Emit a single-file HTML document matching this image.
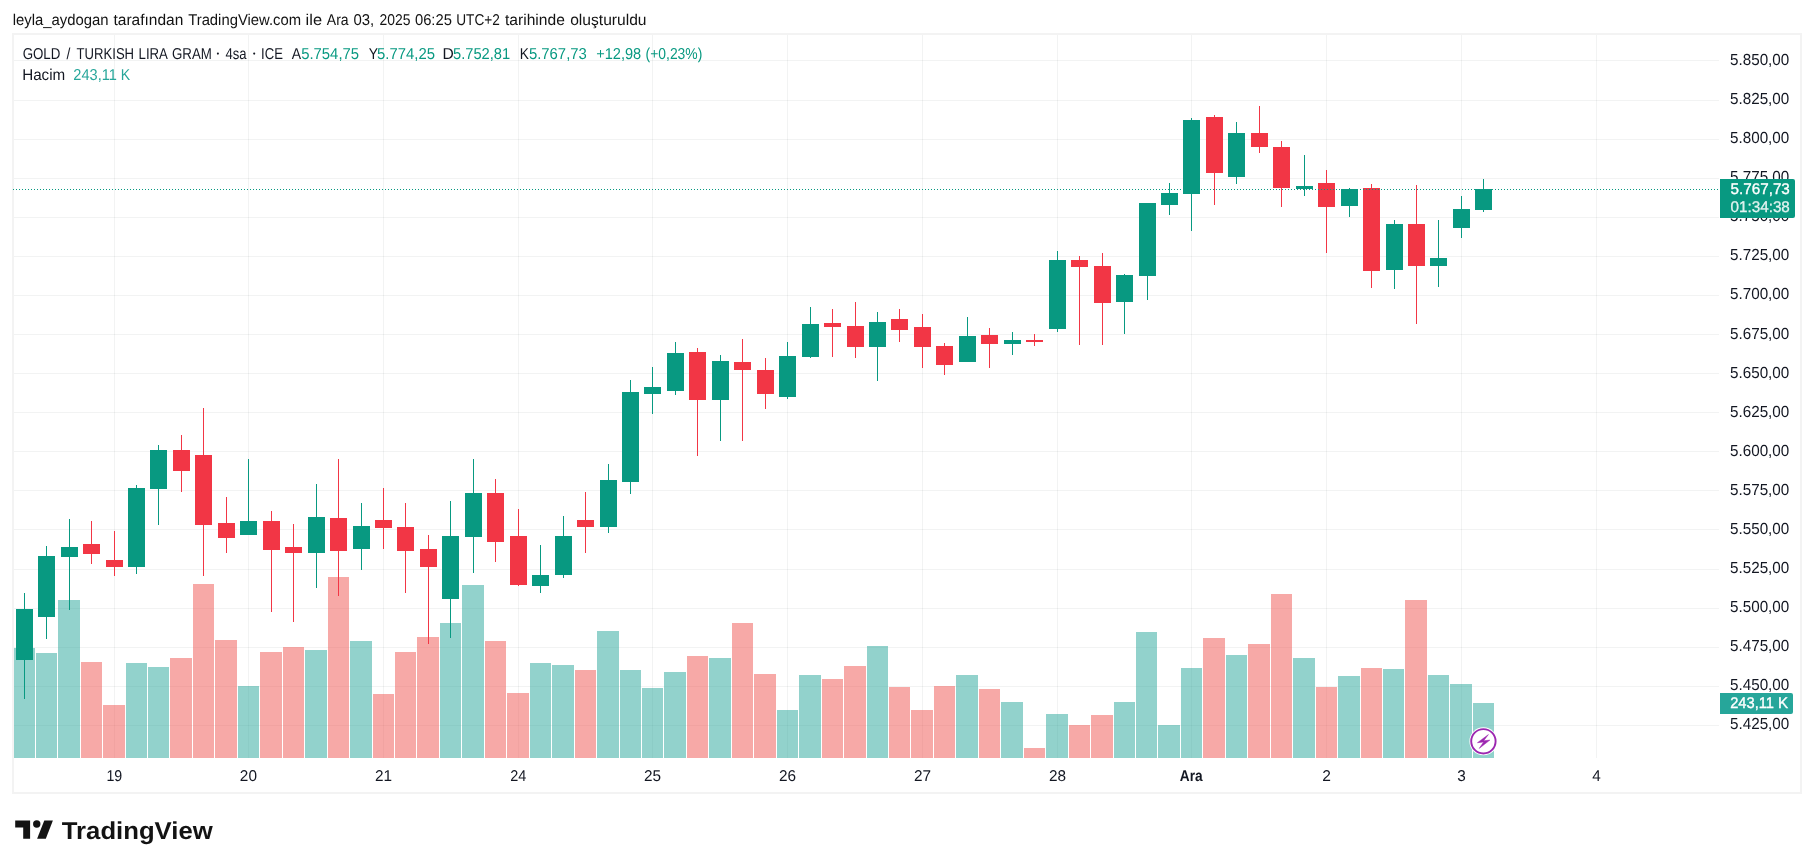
<!DOCTYPE html>
<html><head><meta charset="utf-8"><style>
html,body{margin:0;padding:0;background:#fff;}
body{width:1814px;height:868px;overflow:hidden;position:relative;}
svg{position:absolute;left:0;top:0;font-family:"Liberation Sans",sans-serif;will-change:transform;text-rendering:geometricPrecision;}
</style></head><body>
<svg width="1814" height="868" viewBox="0 0 1814 868">
<rect x="13" y="34" width="1788" height="759" fill="none" stroke="#f3f3f3" stroke-width="2"/>
<rect x="14" y="60" width="1705" height="1" fill="rgba(42,46,57,0.06)"/>
<rect x="14" y="100" width="1705" height="1" fill="rgba(42,46,57,0.06)"/>
<rect x="14" y="139" width="1705" height="1" fill="rgba(42,46,57,0.06)"/>
<rect x="14" y="178" width="1705" height="1" fill="rgba(42,46,57,0.06)"/>
<rect x="14" y="217" width="1705" height="1" fill="rgba(42,46,57,0.06)"/>
<rect x="14" y="256" width="1705" height="1" fill="rgba(42,46,57,0.06)"/>
<rect x="14" y="295" width="1705" height="1" fill="rgba(42,46,57,0.06)"/>
<rect x="14" y="334" width="1705" height="1" fill="rgba(42,46,57,0.06)"/>
<rect x="14" y="373" width="1705" height="1" fill="rgba(42,46,57,0.06)"/>
<rect x="14" y="412" width="1705" height="1" fill="rgba(42,46,57,0.06)"/>
<rect x="14" y="451" width="1705" height="1" fill="rgba(42,46,57,0.06)"/>
<rect x="14" y="490" width="1705" height="1" fill="rgba(42,46,57,0.06)"/>
<rect x="14" y="529" width="1705" height="1" fill="rgba(42,46,57,0.06)"/>
<rect x="14" y="569" width="1705" height="1" fill="rgba(42,46,57,0.06)"/>
<rect x="14" y="608" width="1705" height="1" fill="rgba(42,46,57,0.06)"/>
<rect x="14" y="647" width="1705" height="1" fill="rgba(42,46,57,0.06)"/>
<rect x="14" y="686" width="1705" height="1" fill="rgba(42,46,57,0.06)"/>
<rect x="14" y="725" width="1705" height="1" fill="rgba(42,46,57,0.06)"/>
<rect x="114" y="35" width="1" height="723" fill="rgba(42,46,57,0.06)"/>
<rect x="248" y="35" width="1" height="723" fill="rgba(42,46,57,0.06)"/>
<rect x="383" y="35" width="1" height="723" fill="rgba(42,46,57,0.06)"/>
<rect x="518" y="35" width="1" height="723" fill="rgba(42,46,57,0.06)"/>
<rect x="652" y="35" width="1" height="723" fill="rgba(42,46,57,0.06)"/>
<rect x="787" y="35" width="1" height="723" fill="rgba(42,46,57,0.06)"/>
<rect x="922" y="35" width="1" height="723" fill="rgba(42,46,57,0.06)"/>
<rect x="1057" y="35" width="1" height="723" fill="rgba(42,46,57,0.06)"/>
<rect x="1191" y="35" width="1" height="723" fill="rgba(42,46,57,0.06)"/>
<rect x="1326" y="35" width="1" height="723" fill="rgba(42,46,57,0.06)"/>
<rect x="1461" y="35" width="1" height="723" fill="rgba(42,46,57,0.06)"/>
<rect x="1596" y="35" width="1" height="723" fill="rgba(42,46,57,0.06)"/>
<rect x="14" y="648" width="21" height="110" fill="rgba(38,166,154,0.5)"/>
<rect x="36" y="653" width="21" height="105" fill="rgba(38,166,154,0.5)"/>
<rect x="58" y="600" width="22" height="158" fill="rgba(38,166,154,0.5)"/>
<rect x="81" y="662" width="21" height="96" fill="rgba(239,83,80,0.5)"/>
<rect x="103" y="705" width="22" height="53" fill="rgba(239,83,80,0.5)"/>
<rect x="126" y="663" width="21" height="95" fill="rgba(38,166,154,0.5)"/>
<rect x="148" y="667" width="21" height="91" fill="rgba(38,166,154,0.5)"/>
<rect x="170" y="658" width="22" height="100" fill="rgba(239,83,80,0.5)"/>
<rect x="193" y="584" width="21" height="174" fill="rgba(239,83,80,0.5)"/>
<rect x="215" y="640" width="22" height="118" fill="rgba(239,83,80,0.5)"/>
<rect x="238" y="686" width="21" height="72" fill="rgba(38,166,154,0.5)"/>
<rect x="260" y="652" width="22" height="106" fill="rgba(239,83,80,0.5)"/>
<rect x="283" y="647" width="21" height="111" fill="rgba(239,83,80,0.5)"/>
<rect x="305" y="650" width="22" height="108" fill="rgba(38,166,154,0.5)"/>
<rect x="328" y="577" width="21" height="181" fill="rgba(239,83,80,0.5)"/>
<rect x="350" y="641" width="22" height="117" fill="rgba(38,166,154,0.5)"/>
<rect x="373" y="694" width="21" height="64" fill="rgba(239,83,80,0.5)"/>
<rect x="395" y="652" width="21" height="106" fill="rgba(239,83,80,0.5)"/>
<rect x="417" y="637" width="22" height="121" fill="rgba(239,83,80,0.5)"/>
<rect x="440" y="623" width="21" height="135" fill="rgba(38,166,154,0.5)"/>
<rect x="462" y="585" width="22" height="173" fill="rgba(38,166,154,0.5)"/>
<rect x="485" y="641" width="21" height="117" fill="rgba(239,83,80,0.5)"/>
<rect x="507" y="693" width="22" height="65" fill="rgba(239,83,80,0.5)"/>
<rect x="530" y="663" width="21" height="95" fill="rgba(38,166,154,0.5)"/>
<rect x="552" y="665" width="22" height="93" fill="rgba(38,166,154,0.5)"/>
<rect x="575" y="670" width="21" height="88" fill="rgba(239,83,80,0.5)"/>
<rect x="597" y="631" width="22" height="127" fill="rgba(38,166,154,0.5)"/>
<rect x="620" y="670" width="21" height="88" fill="rgba(38,166,154,0.5)"/>
<rect x="642" y="688" width="21" height="70" fill="rgba(38,166,154,0.5)"/>
<rect x="664" y="672" width="22" height="86" fill="rgba(38,166,154,0.5)"/>
<rect x="687" y="656" width="21" height="102" fill="rgba(239,83,80,0.5)"/>
<rect x="709" y="658" width="22" height="100" fill="rgba(38,166,154,0.5)"/>
<rect x="732" y="623" width="21" height="135" fill="rgba(239,83,80,0.5)"/>
<rect x="754" y="674" width="22" height="84" fill="rgba(239,83,80,0.5)"/>
<rect x="777" y="710" width="21" height="48" fill="rgba(38,166,154,0.5)"/>
<rect x="799" y="675" width="22" height="83" fill="rgba(38,166,154,0.5)"/>
<rect x="822" y="679" width="21" height="79" fill="rgba(239,83,80,0.5)"/>
<rect x="844" y="666" width="22" height="92" fill="rgba(239,83,80,0.5)"/>
<rect x="867" y="646" width="21" height="112" fill="rgba(38,166,154,0.5)"/>
<rect x="889" y="687" width="21" height="71" fill="rgba(239,83,80,0.5)"/>
<rect x="911" y="710" width="22" height="48" fill="rgba(239,83,80,0.5)"/>
<rect x="934" y="686" width="21" height="72" fill="rgba(239,83,80,0.5)"/>
<rect x="956" y="675" width="22" height="83" fill="rgba(38,166,154,0.5)"/>
<rect x="979" y="689" width="21" height="69" fill="rgba(239,83,80,0.5)"/>
<rect x="1001" y="702" width="22" height="56" fill="rgba(38,166,154,0.5)"/>
<rect x="1024" y="748" width="21" height="10" fill="rgba(239,83,80,0.5)"/>
<rect x="1046" y="714" width="22" height="44" fill="rgba(38,166,154,0.5)"/>
<rect x="1069" y="725" width="21" height="33" fill="rgba(239,83,80,0.5)"/>
<rect x="1091" y="715" width="22" height="43" fill="rgba(239,83,80,0.5)"/>
<rect x="1114" y="702" width="21" height="56" fill="rgba(38,166,154,0.5)"/>
<rect x="1136" y="632" width="21" height="126" fill="rgba(38,166,154,0.5)"/>
<rect x="1158" y="725" width="22" height="33" fill="rgba(38,166,154,0.5)"/>
<rect x="1181" y="668" width="21" height="90" fill="rgba(38,166,154,0.5)"/>
<rect x="1203" y="638" width="22" height="120" fill="rgba(239,83,80,0.5)"/>
<rect x="1226" y="655" width="21" height="103" fill="rgba(38,166,154,0.5)"/>
<rect x="1248" y="644" width="22" height="114" fill="rgba(239,83,80,0.5)"/>
<rect x="1271" y="594" width="21" height="164" fill="rgba(239,83,80,0.5)"/>
<rect x="1293" y="658" width="22" height="100" fill="rgba(38,166,154,0.5)"/>
<rect x="1316" y="687" width="21" height="71" fill="rgba(239,83,80,0.5)"/>
<rect x="1338" y="676" width="22" height="82" fill="rgba(38,166,154,0.5)"/>
<rect x="1361" y="668" width="21" height="90" fill="rgba(239,83,80,0.5)"/>
<rect x="1383" y="669" width="21" height="89" fill="rgba(38,166,154,0.5)"/>
<rect x="1405" y="600" width="22" height="158" fill="rgba(239,83,80,0.5)"/>
<rect x="1428" y="675" width="21" height="83" fill="rgba(38,166,154,0.5)"/>
<rect x="1450" y="684" width="22" height="74" fill="rgba(38,166,154,0.5)"/>
<rect x="1473" y="703" width="21" height="55" fill="rgba(38,166,154,0.5)"/>
<rect x="24" y="593" width="1" height="106" fill="#089981"/>
<rect x="16" y="609" width="17" height="51" fill="#089981"/>
<rect x="46" y="546" width="1" height="93" fill="#089981"/>
<rect x="38" y="556" width="17" height="61" fill="#089981"/>
<rect x="69" y="519" width="1" height="91" fill="#089981"/>
<rect x="61" y="547" width="17" height="10" fill="#089981"/>
<rect x="91" y="521" width="1" height="43" fill="#f23645"/>
<rect x="83" y="544" width="17" height="10" fill="#f23645"/>
<rect x="114" y="531" width="1" height="45" fill="#f23645"/>
<rect x="106" y="560" width="17" height="7" fill="#f23645"/>
<rect x="136" y="485" width="1" height="89" fill="#089981"/>
<rect x="128" y="488" width="17" height="79" fill="#089981"/>
<rect x="158" y="445" width="1" height="80" fill="#089981"/>
<rect x="150" y="450" width="17" height="39" fill="#089981"/>
<rect x="181" y="435" width="1" height="57" fill="#f23645"/>
<rect x="173" y="450" width="17" height="21" fill="#f23645"/>
<rect x="203" y="408" width="1" height="168" fill="#f23645"/>
<rect x="195" y="455" width="17" height="70" fill="#f23645"/>
<rect x="226" y="497" width="1" height="56" fill="#f23645"/>
<rect x="218" y="523" width="17" height="15" fill="#f23645"/>
<rect x="248" y="459" width="1" height="76" fill="#089981"/>
<rect x="240" y="521" width="17" height="14" fill="#089981"/>
<rect x="271" y="511" width="1" height="101" fill="#f23645"/>
<rect x="263" y="521" width="17" height="29" fill="#f23645"/>
<rect x="293" y="524" width="1" height="98" fill="#f23645"/>
<rect x="285" y="547" width="17" height="6" fill="#f23645"/>
<rect x="316" y="484" width="1" height="104" fill="#089981"/>
<rect x="308" y="517" width="17" height="36" fill="#089981"/>
<rect x="338" y="459" width="1" height="137" fill="#f23645"/>
<rect x="330" y="518" width="17" height="33" fill="#f23645"/>
<rect x="361" y="503" width="1" height="67" fill="#089981"/>
<rect x="353" y="526" width="17" height="23" fill="#089981"/>
<rect x="383" y="488" width="1" height="61" fill="#f23645"/>
<rect x="375" y="520" width="17" height="8" fill="#f23645"/>
<rect x="405" y="503" width="1" height="90" fill="#f23645"/>
<rect x="397" y="527" width="17" height="24" fill="#f23645"/>
<rect x="428" y="535" width="1" height="109" fill="#f23645"/>
<rect x="420" y="549" width="17" height="18" fill="#f23645"/>
<rect x="450" y="501" width="1" height="137" fill="#089981"/>
<rect x="442" y="536" width="17" height="63" fill="#089981"/>
<rect x="473" y="459" width="1" height="114" fill="#089981"/>
<rect x="465" y="493" width="17" height="44" fill="#089981"/>
<rect x="495" y="479" width="1" height="83" fill="#f23645"/>
<rect x="487" y="493" width="17" height="49" fill="#f23645"/>
<rect x="518" y="509" width="1" height="77" fill="#f23645"/>
<rect x="510" y="536" width="17" height="49" fill="#f23645"/>
<rect x="540" y="545" width="1" height="48" fill="#089981"/>
<rect x="532" y="575" width="17" height="11" fill="#089981"/>
<rect x="563" y="516" width="1" height="62" fill="#089981"/>
<rect x="555" y="536" width="17" height="39" fill="#089981"/>
<rect x="585" y="492" width="1" height="61" fill="#f23645"/>
<rect x="577" y="520" width="17" height="7" fill="#f23645"/>
<rect x="608" y="464" width="1" height="69" fill="#089981"/>
<rect x="600" y="480" width="17" height="47" fill="#089981"/>
<rect x="630" y="380" width="1" height="114" fill="#089981"/>
<rect x="622" y="392" width="17" height="90" fill="#089981"/>
<rect x="652" y="367" width="1" height="47" fill="#089981"/>
<rect x="644" y="387" width="17" height="7" fill="#089981"/>
<rect x="675" y="342" width="1" height="53" fill="#089981"/>
<rect x="667" y="353" width="17" height="38" fill="#089981"/>
<rect x="697" y="348" width="1" height="108" fill="#f23645"/>
<rect x="689" y="352" width="17" height="48" fill="#f23645"/>
<rect x="720" y="355" width="1" height="86" fill="#089981"/>
<rect x="712" y="361" width="17" height="39" fill="#089981"/>
<rect x="742" y="339" width="1" height="102" fill="#f23645"/>
<rect x="734" y="362" width="17" height="8" fill="#f23645"/>
<rect x="765" y="358" width="1" height="51" fill="#f23645"/>
<rect x="757" y="370" width="17" height="24" fill="#f23645"/>
<rect x="787" y="342" width="1" height="57" fill="#089981"/>
<rect x="779" y="356" width="17" height="41" fill="#089981"/>
<rect x="810" y="307" width="1" height="51" fill="#089981"/>
<rect x="802" y="324" width="17" height="33" fill="#089981"/>
<rect x="832" y="309" width="1" height="48" fill="#f23645"/>
<rect x="824" y="323" width="17" height="4" fill="#f23645"/>
<rect x="855" y="302" width="1" height="56" fill="#f23645"/>
<rect x="847" y="326" width="17" height="21" fill="#f23645"/>
<rect x="877" y="312" width="1" height="69" fill="#089981"/>
<rect x="869" y="322" width="17" height="25" fill="#089981"/>
<rect x="899" y="309" width="1" height="33" fill="#f23645"/>
<rect x="891" y="319" width="17" height="11" fill="#f23645"/>
<rect x="922" y="314" width="1" height="54" fill="#f23645"/>
<rect x="914" y="327" width="17" height="20" fill="#f23645"/>
<rect x="944" y="343" width="1" height="32" fill="#f23645"/>
<rect x="936" y="346" width="17" height="19" fill="#f23645"/>
<rect x="967" y="317" width="1" height="45" fill="#089981"/>
<rect x="959" y="336" width="17" height="26" fill="#089981"/>
<rect x="989" y="328" width="1" height="40" fill="#f23645"/>
<rect x="981" y="335" width="17" height="9" fill="#f23645"/>
<rect x="1012" y="332" width="1" height="23" fill="#089981"/>
<rect x="1004" y="340" width="17" height="4" fill="#089981"/>
<rect x="1034" y="334" width="1" height="12" fill="#f23645"/>
<rect x="1026" y="340" width="17" height="2" fill="#f23645"/>
<rect x="1057" y="251" width="1" height="81" fill="#089981"/>
<rect x="1049" y="260" width="17" height="69" fill="#089981"/>
<rect x="1079" y="256" width="1" height="89" fill="#f23645"/>
<rect x="1071" y="260" width="17" height="7" fill="#f23645"/>
<rect x="1102" y="253" width="1" height="92" fill="#f23645"/>
<rect x="1094" y="266" width="17" height="37" fill="#f23645"/>
<rect x="1124" y="274" width="1" height="60" fill="#089981"/>
<rect x="1116" y="275" width="17" height="27" fill="#089981"/>
<rect x="1147" y="203" width="1" height="97" fill="#089981"/>
<rect x="1139" y="203" width="17" height="73" fill="#089981"/>
<rect x="1169" y="183" width="1" height="32" fill="#089981"/>
<rect x="1161" y="193" width="17" height="12" fill="#089981"/>
<rect x="1191" y="118" width="1" height="113" fill="#089981"/>
<rect x="1183" y="120" width="17" height="74" fill="#089981"/>
<rect x="1214" y="115" width="1" height="90" fill="#f23645"/>
<rect x="1206" y="117" width="17" height="56" fill="#f23645"/>
<rect x="1236" y="122" width="1" height="62" fill="#089981"/>
<rect x="1228" y="133" width="17" height="44" fill="#089981"/>
<rect x="1259" y="106" width="1" height="47" fill="#f23645"/>
<rect x="1251" y="133" width="17" height="14" fill="#f23645"/>
<rect x="1281" y="141" width="1" height="66" fill="#f23645"/>
<rect x="1273" y="147" width="17" height="41" fill="#f23645"/>
<rect x="1304" y="155" width="1" height="41" fill="#089981"/>
<rect x="1296" y="186" width="17" height="3" fill="#089981"/>
<rect x="1326" y="170" width="1" height="83" fill="#f23645"/>
<rect x="1318" y="183" width="17" height="24" fill="#f23645"/>
<rect x="1349" y="188" width="1" height="29" fill="#089981"/>
<rect x="1341" y="189" width="17" height="17" fill="#089981"/>
<rect x="1371" y="184" width="1" height="104" fill="#f23645"/>
<rect x="1363" y="188" width="17" height="83" fill="#f23645"/>
<rect x="1394" y="220" width="1" height="69" fill="#089981"/>
<rect x="1386" y="224" width="17" height="46" fill="#089981"/>
<rect x="1416" y="185" width="1" height="139" fill="#f23645"/>
<rect x="1408" y="224" width="17" height="42" fill="#f23645"/>
<rect x="1438" y="220" width="1" height="67" fill="#089981"/>
<rect x="1430" y="258" width="17" height="8" fill="#089981"/>
<rect x="1461" y="196" width="1" height="42" fill="#089981"/>
<rect x="1453" y="209" width="17" height="19" fill="#089981"/>
<rect x="1483" y="179" width="1" height="33" fill="#089981"/>
<rect x="1475" y="189" width="17" height="21" fill="#089981"/>
<line x1="13" y1="189.5" x2="1719" y2="189.5" stroke="#089981" stroke-width="1" stroke-dasharray="1 2"/>
<text x="12.63" y="25" font-size="15.6" fill="#131313" textLength="95.93" lengthAdjust="spacingAndGlyphs" xml:space="preserve">leyla_aydogan</text>
<text x="113.47" y="25" font-size="15.6" fill="#131313" textLength="69.79" lengthAdjust="spacingAndGlyphs" xml:space="preserve">tarafından</text>
<text x="188.20" y="25" font-size="15.6" fill="#131313" textLength="112.86" lengthAdjust="spacingAndGlyphs" xml:space="preserve">TradingView.com</text>
<text x="305.63" y="25" font-size="15.6" fill="#131313" textLength="16.41" lengthAdjust="spacingAndGlyphs" xml:space="preserve">ile</text>
<text x="326.80" y="25" font-size="15.6" fill="#131313" textLength="21.82" lengthAdjust="spacingAndGlyphs" xml:space="preserve">Ara</text>
<text x="353.40" y="25" font-size="15.6" fill="#131313" textLength="20.74" lengthAdjust="spacingAndGlyphs" xml:space="preserve">03,</text>
<text x="379.60" y="25" font-size="15.6" fill="#131313" textLength="30.95" lengthAdjust="spacingAndGlyphs" xml:space="preserve">2025</text>
<text x="414.91" y="25" font-size="15.6" fill="#131313" textLength="37.02" lengthAdjust="spacingAndGlyphs" xml:space="preserve">06:25</text>
<text x="456.28" y="25" font-size="15.6" fill="#131313" textLength="43.61" lengthAdjust="spacingAndGlyphs" xml:space="preserve">UTC+2</text>
<text x="504.97" y="25" font-size="15.6" fill="#131313" textLength="59.85" lengthAdjust="spacingAndGlyphs" xml:space="preserve">tarihinde</text>
<text x="570.18" y="25" font-size="15.6" fill="#131313" textLength="76.37" lengthAdjust="spacingAndGlyphs" xml:space="preserve">oluşturuldu</text>
<text x="1730.09" y="64.9" font-size="16" fill="#131722" textLength="59.18" lengthAdjust="spacingAndGlyphs" xml:space="preserve">5.850,00</text>
<text x="1730.09" y="103.99" font-size="16" fill="#131722" textLength="59.18" lengthAdjust="spacingAndGlyphs" xml:space="preserve">5.825,00</text>
<text x="1730.09" y="143.07" font-size="16" fill="#131722" textLength="59.18" lengthAdjust="spacingAndGlyphs" xml:space="preserve">5.800,00</text>
<text x="1730.09" y="182.16" font-size="16" fill="#131722" textLength="59.18" lengthAdjust="spacingAndGlyphs" xml:space="preserve">5.775,00</text>
<text x="1730.09" y="221.24" font-size="16" fill="#131722" textLength="59.18" lengthAdjust="spacingAndGlyphs" xml:space="preserve">5.750,00</text>
<text x="1730.09" y="260.33" font-size="16" fill="#131722" textLength="59.18" lengthAdjust="spacingAndGlyphs" xml:space="preserve">5.725,00</text>
<text x="1730.09" y="299.41" font-size="16" fill="#131722" textLength="59.18" lengthAdjust="spacingAndGlyphs" xml:space="preserve">5.700,00</text>
<text x="1730.09" y="338.5" font-size="16" fill="#131722" textLength="59.18" lengthAdjust="spacingAndGlyphs" xml:space="preserve">5.675,00</text>
<text x="1730.09" y="377.58" font-size="16" fill="#131722" textLength="59.18" lengthAdjust="spacingAndGlyphs" xml:space="preserve">5.650,00</text>
<text x="1730.09" y="416.66" font-size="16" fill="#131722" textLength="59.18" lengthAdjust="spacingAndGlyphs" xml:space="preserve">5.625,00</text>
<text x="1730.09" y="455.75" font-size="16" fill="#131722" textLength="59.18" lengthAdjust="spacingAndGlyphs" xml:space="preserve">5.600,00</text>
<text x="1730.09" y="494.84" font-size="16" fill="#131722" textLength="59.18" lengthAdjust="spacingAndGlyphs" xml:space="preserve">5.575,00</text>
<text x="1730.09" y="533.92" font-size="16" fill="#131722" textLength="59.18" lengthAdjust="spacingAndGlyphs" xml:space="preserve">5.550,00</text>
<text x="1730.09" y="573.0" font-size="16" fill="#131722" textLength="59.18" lengthAdjust="spacingAndGlyphs" xml:space="preserve">5.525,00</text>
<text x="1730.09" y="612.09" font-size="16" fill="#131722" textLength="59.18" lengthAdjust="spacingAndGlyphs" xml:space="preserve">5.500,00</text>
<text x="1730.09" y="651.17" font-size="16" fill="#131722" textLength="59.18" lengthAdjust="spacingAndGlyphs" xml:space="preserve">5.475,00</text>
<text x="1730.09" y="690.26" font-size="16" fill="#131722" textLength="59.18" lengthAdjust="spacingAndGlyphs" xml:space="preserve">5.450,00</text>
<text x="1730.09" y="729.35" font-size="16" fill="#131722" textLength="59.18" lengthAdjust="spacingAndGlyphs" xml:space="preserve">5.425,00</text>
<path d="M1720 179 H1793 a2 2 0 0 1 2 2 V216 a2 2 0 0 1 -2 2 H1720 Z" fill="#089981"/>
<text x="1730.49" y="193.8" font-size="15.5" fill="#ffffff" textLength="59.36" lengthAdjust="spacingAndGlyphs" xml:space="preserve" stroke="#ffffff" stroke-width="0.35">5.767,73</text>
<text x="1730.49" y="212.1" font-size="15.5" fill="rgba(255,255,255,0.85)" textLength="59.36" lengthAdjust="spacingAndGlyphs" xml:space="preserve" stroke="rgba(255,255,255,0.85)" stroke-width="0.3">01:34:38</text>
<path d="M1720 693 H1791 a2 2 0 0 1 2 2 V712 a2 2 0 0 1 -2 2 H1720 Z" fill="#26a69a"/>
<text x="1730.17" y="707.9" font-size="15.5" fill="#ffffff" textLength="43.79" lengthAdjust="spacingAndGlyphs" xml:space="preserve" stroke="#ffffff" stroke-width="0.35">243,11</text>
<text x="1777.99" y="707.9" font-size="15.5" fill="#ffffff" textLength="10.09" lengthAdjust="spacingAndGlyphs" xml:space="preserve" stroke="#ffffff" stroke-width="0.35">K</text>
<text x="106.38" y="781" font-size="15.6" fill="#131722" textLength="15.84" lengthAdjust="spacingAndGlyphs" xml:space="preserve">19</text>
<text x="239.86" y="781" font-size="15.6" fill="#131722" textLength="17.09" lengthAdjust="spacingAndGlyphs" xml:space="preserve">20</text>
<text x="374.94" y="781" font-size="15.6" fill="#131722" textLength="17.09" lengthAdjust="spacingAndGlyphs" xml:space="preserve">21</text>
<text x="510.33" y="781" font-size="15.6" fill="#131722" textLength="16.09" lengthAdjust="spacingAndGlyphs" xml:space="preserve">24</text>
<text x="643.90" y="781" font-size="15.6" fill="#131722" textLength="17.09" lengthAdjust="spacingAndGlyphs" xml:space="preserve">25</text>
<text x="778.90" y="781" font-size="15.6" fill="#131722" textLength="17.09" lengthAdjust="spacingAndGlyphs" xml:space="preserve">26</text>
<text x="913.98" y="781" font-size="15.6" fill="#131722" textLength="17.09" lengthAdjust="spacingAndGlyphs" xml:space="preserve">27</text>
<text x="1048.90" y="781" font-size="15.6" fill="#131722" textLength="17.09" lengthAdjust="spacingAndGlyphs" xml:space="preserve">28</text>
<text x="1179.86" y="781" font-size="15.6" font-weight="bold" fill="#131722" textLength="22.84" lengthAdjust="spacingAndGlyphs" xml:space="preserve">Ara</text>
<text x="1322.17" y="781" font-size="15.6" fill="#131722" textLength="8.68" lengthAdjust="spacingAndGlyphs" xml:space="preserve">2</text>
<text x="1457.24" y="781" font-size="15.6" fill="#131722" textLength="8.54" lengthAdjust="spacingAndGlyphs" xml:space="preserve">3</text>
<text x="1592.31" y="781" font-size="15.6" fill="#131722" textLength="8.54" lengthAdjust="spacingAndGlyphs" xml:space="preserve">4</text>
<circle cx="1483.4" cy="741.3" r="14" fill="#fff"/>
<circle cx="1483.4" cy="741.3" r="12.2" fill="#fff" stroke="#9c27b0" stroke-width="1.9"/>
<path d="M1488.4 734.6 L1477.4 742.7 L1483.6 742.1 L1479.2 748.4 L1489.9 740.1 L1483.7 740.7 Z" fill="#9c27b0" stroke="#9c27b0" stroke-width="0.5" stroke-linejoin="round"/>
<text x="22.63" y="58.9" font-size="15.8" fill="#131722" textLength="37.72" lengthAdjust="spacingAndGlyphs" xml:space="preserve">GOLD</text>
<text x="66.40" y="58.9" font-size="15.8" fill="#131722" textLength="3.87" lengthAdjust="spacingAndGlyphs" xml:space="preserve">/</text>
<text x="76.54" y="58.9" font-size="15.8" fill="#131722" textLength="57.57" lengthAdjust="spacingAndGlyphs" xml:space="preserve">TURKISH</text>
<text x="138.54" y="58.9" font-size="15.8" fill="#131722" textLength="29.40" lengthAdjust="spacingAndGlyphs" xml:space="preserve">LIRA</text>
<text x="171.94" y="58.9" font-size="15.8" fill="#131722" textLength="39.90" lengthAdjust="spacingAndGlyphs" xml:space="preserve">GRAM</text>
<circle cx="217.9" cy="53.6" r="1.05" fill="#131722"/>
<text x="225.54" y="58.9" font-size="15.8" fill="#131722" textLength="21.09" lengthAdjust="spacingAndGlyphs" xml:space="preserve">4sa</text>
<circle cx="254.2" cy="53.6" r="1.05" fill="#131722"/>
<text x="261.12" y="58.9" font-size="15.8" fill="#131722" textLength="21.83" lengthAdjust="spacingAndGlyphs" xml:space="preserve">ICE</text>
<text x="291.70" y="58.9" font-size="15.8" fill="#131722" textLength="9.33" lengthAdjust="spacingAndGlyphs" xml:space="preserve">A</text>
<text x="301.21" y="58.9" font-size="15.8" fill="#089981" textLength="57.83" lengthAdjust="spacingAndGlyphs" xml:space="preserve">5.754,75</text>
<text x="368.75" y="58.9" font-size="15.8" fill="#131722" textLength="9.25" lengthAdjust="spacingAndGlyphs" xml:space="preserve">Y</text>
<text x="377.11" y="58.9" font-size="15.8" fill="#089981" textLength="57.83" lengthAdjust="spacingAndGlyphs" xml:space="preserve">5.774,25</text>
<text x="442.45" y="58.9" font-size="15.8" fill="#131722" textLength="11.29" lengthAdjust="spacingAndGlyphs" xml:space="preserve">D</text>
<text x="453.01" y="58.9" font-size="15.8" fill="#089981" textLength="57.19" lengthAdjust="spacingAndGlyphs" xml:space="preserve">5.752,81</text>
<text x="519.80" y="58.9" font-size="15.8" fill="#131722" textLength="9.16" lengthAdjust="spacingAndGlyphs" xml:space="preserve">K</text>
<text x="528.90" y="58.9" font-size="15.8" fill="#089981" textLength="57.93" lengthAdjust="spacingAndGlyphs" xml:space="preserve">5.767,73</text>
<text x="596.17" y="58.9" font-size="15.8" fill="#089981" textLength="45.03" lengthAdjust="spacingAndGlyphs" xml:space="preserve">+12,98</text>
<text x="645.57" y="58.9" font-size="15.8" fill="#089981" textLength="56.78" lengthAdjust="spacingAndGlyphs" xml:space="preserve">(+0,23%)</text>
<text x="22.18" y="80" font-size="15.8" fill="#131722" textLength="43.08" lengthAdjust="spacingAndGlyphs" xml:space="preserve">Hacim</text>
<text x="73.37" y="80" font-size="15.8" fill="#26a69a" textLength="43.48" lengthAdjust="spacingAndGlyphs" xml:space="preserve">243,11</text>
<text x="120.67" y="80" font-size="15.8" fill="#26a69a" textLength="9.40" lengthAdjust="spacingAndGlyphs" xml:space="preserve">K</text>
<g fill="#131313">
<path d="M15.2 820.6 H30.1 V838.8 H23.2 V827.4 H15.2 Z"/>
<circle cx="36.75" cy="824.05" r="3.7"/>
<path d="M44.3 820.5 H52.9 L45.8 838.8 H37.1 Z"/>
</g>
<text x="61.84" y="839" font-size="24.5" font-weight="bold" fill="#131313" textLength="150.88" lengthAdjust="spacingAndGlyphs" xml:space="preserve">TradingView</text>
</svg>
</body></html>
